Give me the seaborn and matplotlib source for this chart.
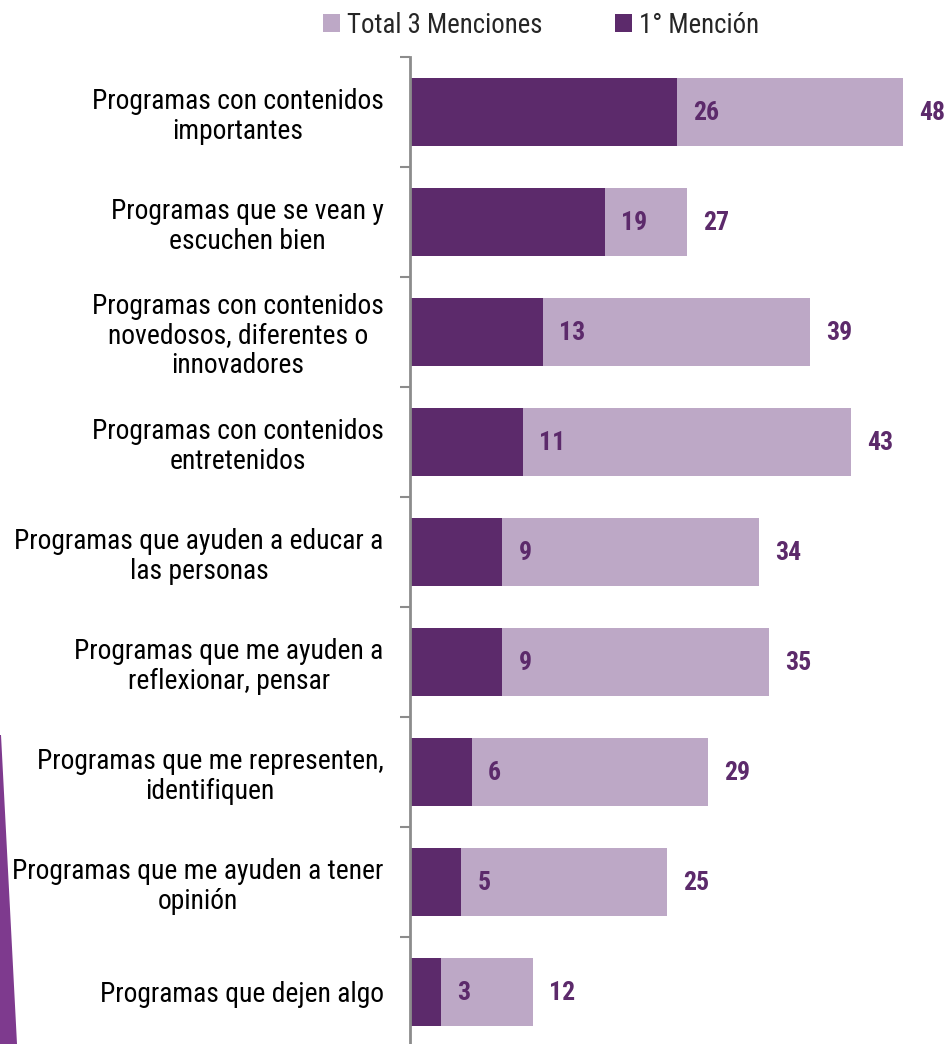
import matplotlib
matplotlib.use("Agg")
import matplotlib.pyplot as plt
import matplotlib.font_manager as fm
from matplotlib.patches import Patch, Polygon
import seaborn as sns
import numpy as np

categories = [
    "Programas con contenidos\nimportantes",
    "Programas que se vean y\nescuchen bien",
    "Programas con contenidos\nnovedosos, diferentes o\ninnovadores",
    "Programas con contenidos\nentretenidos",
    "Programas que ayuden a educar a\nlas personas",
    "Programas que me ayuden a\nreflexionar, pensar",
    "Programas que me representen,\nidentifiquen",
    "Programas que me ayuden a tener\nopinión",
    "Programas que dejen algo",
]
total_3 = [48, 27, 39, 43, 34, 35, 29, 25, 12]
first_mention = [26, 19, 13, 11, 9, 9, 6, 5, 3]
series_names = ["Total 3 Menciones", "1° Mención"]

DARK = "#5C2A6B"
LIGHT = "#BDA8C6"
STRIPE = "#7E3A8E"

sns.set_style("white")

fonts = fm.fontManager.ttflist
avail = {f.name for f in fonts}
bold_avail = {f.name for f in fonts if f.weight in (700, "bold") and f.style == "normal"}
cands = ["Liberation Sans Narrow", "Arial Narrow", "Roboto Condensed", "Archivo Narrow",
         "PT Sans Narrow", "Pragati Narrow", "Asap Condensed", "Liberation Sans"]
FAM = next((c for c in cands if c in avail), "DejaVu Sans")
BFAM = next((c for c in cands if c in bold_avail), "DejaVu Sans")
plt.rcParams["font.family"] = [FAM, "DejaVu Sans"]

W, H = 948, 1044
fig = plt.figure(figsize=(W / 100, H / 100), dpi=100)
renderer = fig.canvas.get_renderer()


def fit_size(text, target_px, base, family, weight="normal", maxsize=None):
    t = fig.text(0, 0, text, fontsize=base, family=[family, "DejaVu Sans"], fontweight=weight)
    w = t.get_window_extent(renderer).width
    t.remove()
    s = base * target_px / w
    if maxsize:
        s = min(s, maxsize)
    return s


tick_fs = fit_size("Programas que ayuden a educar a", 370, 20, FAM, maxsize=21)
leg_fs = fit_size("Total 3 Menciones", 196, 20, FAM, maxsize=21)
lab_fs = fit_size("26", 26, 21, BFAM, "bold", maxsize=23)

ax = fig.add_axes([410 / W, 1 - 1047 / H, 1 - 410 / W, (1047 - 57) / H])

sns.barplot(x=total_3, y=categories, color=LIGHT, saturation=1, width=0.61,
            orient="h", ax=ax, linewidth=0)
sns.barplot(x=first_mention, y=categories, color=DARK, saturation=1, width=0.61,
            orient="h", ax=ax, linewidth=0)

ax.set_xlim(0, 52.4)
ax.set_ylim(len(categories) - 0.5, -0.5)
ax.set_xlabel("")
ax.set_ylabel("")
ax.set_xticks([])

for s in ["top", "right", "bottom"]:
    ax.spines[s].set_visible(False)
ax.spines["left"].set_color("#8C8C8C")
ax.spines["left"].set_linewidth(2)

ax.set_yticks(range(len(categories)))
ax.set_yticklabels(categories, fontsize=tick_fs, ha="right", multialignment="center",
                   linespacing=1.12, color="black")
ax.tick_params(axis="y", which="major", left=True, length=0, pad=19)
ax.set_yticks(np.arange(-0.5, len(categories) - 0.5, 1.0), minor=True)
ax.tick_params(axis="y", which="minor", left=True, length=7, width=1.5,
               color="#8C8C8C", direction="out")

for i, (t, f) in enumerate(zip(total_3, first_mention)):
    for v in (f, t):
        ax.annotate(str(v), xy=(v, i), xytext=(11.5, -1), textcoords="offset points",
                    ha="left", va="center", fontsize=lab_fs, fontweight="bold",
                    color=DARK, family=[BFAM, "DejaVu Sans"])

handles = [Patch(facecolor=LIGHT, edgecolor="none"), Patch(facecolor=DARK, edgecolor="none")]
fig.legend(handles, series_names, loc="center", bbox_to_anchor=(541 / W, 1 - 25 / H),
           ncol=2, frameon=False, fontsize=leg_fs, handlelength=0.65, handleheight=0.65,
           handletextpad=0.25, columnspacing=2.7)

stripe = Polygon([(0, 1 - 735 / H), (1 / W, 1 - 735 / H), (17 / W, 0), (0, 0)],
                 closed=True, transform=fig.transFigure, facecolor=STRIPE,
                 edgecolor="none")
fig.patches.append(stripe)

fig.savefig("out.png", dpi=100)
